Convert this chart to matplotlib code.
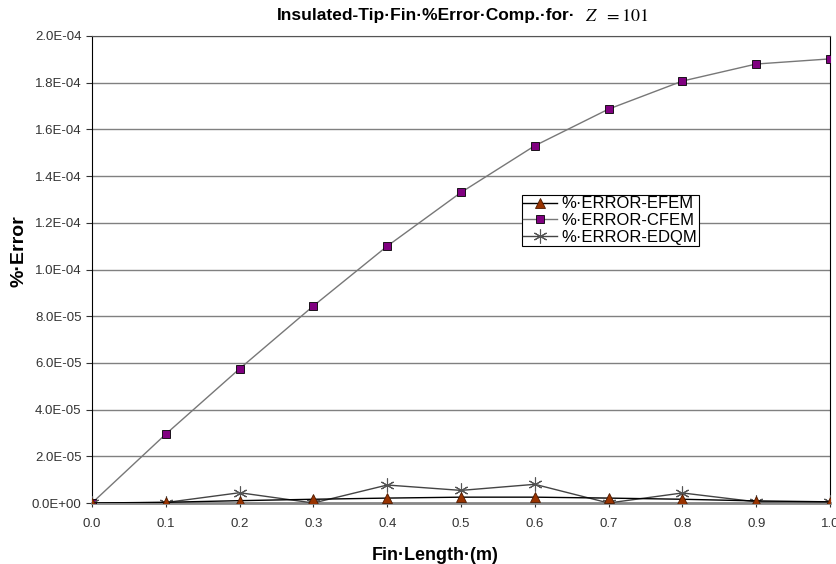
import matplotlib.pyplot as plt
from matplotlib.ticker import FuncFormatter

plt.rcParams['font.family'] = ['Liberation Sans', 'DejaVu Sans']

fin_length = [0.0, 0.1, 0.2, 0.3, 0.4, 0.5, 0.6, 0.7, 0.8, 0.9, 1.0]
err_efem = [0.0, 0.3e-6, 1.0e-6, 1.6e-6, 2.1e-6, 2.5e-6, 2.5e-6, 2.1e-6, 1.6e-6, 0.9e-6, 0.5e-6]
err_cfem = [0.0, 29.5e-6, 57.5e-6, 84.4e-6, 110e-6, 133e-6, 153e-6, 168.7e-6, 180.7e-6, 188e-6, 190.2e-6]
err_edqm = [0.0, 0.2e-6, 4.4e-6, 0.0, 7.7e-6, 5.4e-6, 8.0e-6, 0.0, 4.3e-6, 0.5e-6, 0.5e-6]

fig = plt.figure(figsize=(8.37, 5.64), dpi=100)
ax = fig.add_axes([92/837, 1-503/564, (830-92)/837, (503-36)/564])

ax.plot(fin_length, err_efem, color='black', lw=1, marker='^', ms=7,
        mfc='#993300', mec='#4d1a00', mew=0.6, label='%·ERROR-EFEM', zorder=4)
ax.plot(fin_length, err_cfem, color='#777777', lw=1, marker='s', ms=5.5,
        mfc='#800080', mec='black', mew=0.6, label='%·ERROR-CFEM', zorder=3)
ax.plot(fin_length, err_edqm, color='#444444', lw=1, marker=(6, 2, 0), ms=10,
        mec='#555555', mew=0.8, label='%·ERROR-EDQM', zorder=3)

ax.set_xlim(0, 1.0)
ax.set_ylim(0, 2.0e-4)
ax.set_xticks([i/10 for i in range(11)])
ax.set_yticks([i*2e-5 for i in range(11)])
ax.xaxis.set_major_formatter(FuncFormatter(lambda v, p: f'{v:.1f}'))
ax.yaxis.set_major_formatter(FuncFormatter(lambda v, p: f'{v:.1E}'))
ax.grid(axis='y', color='#808080', lw=1)
ax.set_axisbelow(True)
ax.tick_params(axis='both', labelsize=9.5, colors='#333333', direction='out', length=4)
ax.tick_params(axis='x', direction='inout', length=6, pad=8)

for s in ['left', 'right']:
    ax.spines[s].set_color('black')
ax.spines['top'].set_color('#555555')
ax.spines['bottom'].set_color('#888888')
ax.spines['bottom'].set_linewidth(2)

ax.set_xlabel('Fin·Length·(m)', fontsize=13, fontweight='bold')
ax.xaxis.set_label_coords(0.465, -0.095)
ax.set_ylabel('%·Error', fontsize=14, fontweight='bold')
ax.yaxis.set_label_coords(-0.088, 0.54)

fig.text(0.331, 0.972, 'Insulated-Tip·Fin·%Error·Comp.·for·', fontsize=12.5, fontweight='bold',
         ha='left', va='center')
fig.text(0.699, 0.970, r'$Z\ \ =101$', fontsize=13, ha='left', va='center',
         math_fontfamily='stix')

leg = ax.legend(loc='upper left', bbox_to_anchor=(0.582, 0.66), fontsize=12,
                frameon=True, fancybox=False, framealpha=1, edgecolor='black',
                handlelength=2.0, handletextpad=0.3, borderpad=0.1, labelspacing=0.1,
                borderaxespad=0)
leg.get_frame().set_linewidth(0.8)

fig.savefig('out.png', dpi=100)
